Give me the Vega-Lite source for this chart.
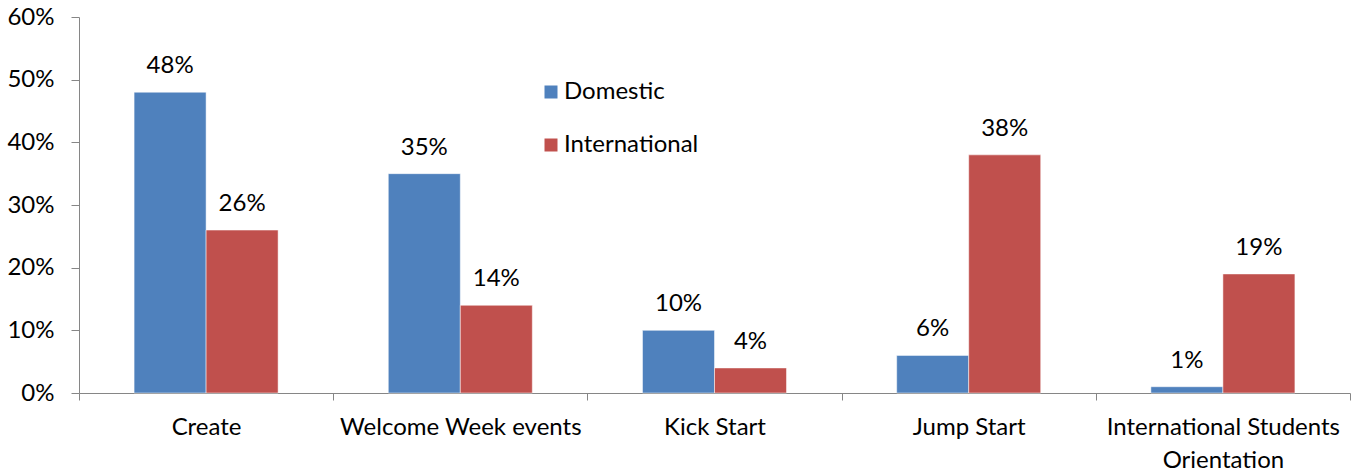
{
  "$schema": "https://vega.github.io/schema/vega-lite/v6.json",
  "width": 1271,
  "height": 376,
  "autosize": "none",
  "padding": {"left": 79, "top": 17, "right": 8, "bottom": 79},
  "background": "white",
  "config": {
    "view": {"stroke": null},
    "font": "Lato",
    "axis": {"labelFont": "Lato", "labelColor": "#000000", "domainColor": "#868686", "tickColor": "#868686", "grid": false, "title": null}
  },
  "data": {
    "values": [
      {"event": "Create", "group": "Domestic", "value": 0.48},
      {"event": "Create", "group": "International", "value": 0.26},
      {"event": "Welcome Week events", "group": "Domestic", "value": 0.35},
      {"event": "Welcome Week events", "group": "International", "value": 0.14},
      {"event": "Kick Start", "group": "Domestic", "value": 0.10},
      {"event": "Kick Start", "group": "International", "value": 0.04},
      {"event": "Jump Start", "group": "Domestic", "value": 0.06},
      {"event": "Jump Start", "group": "International", "value": 0.38},
      {"event": "International Students Orientation", "group": "Domestic", "value": 0.01},
      {"event": "International Students Orientation", "group": "International", "value": 0.19}
    ]
  },
  "encoding": {
    "x": {
      "field": "event", "type": "nominal", "sort": null,
      "scale": {"paddingInner": 0, "paddingOuter": 0},
      "axis": {
        "labelAngle": 0, "labelFontSize": 24, "labelPadding": 15, "tickSize": 7, "tickBand": "extent",
        "labelLimit": 0,
        "labelExpr": "datum.label == 'International Students Orientation' ? ['International Students', 'Orientation'] : datum.label",
        "labelLineHeight": 33
      }
    },
    "xOffset": {"field": "group", "type": "nominal", "scale": {"paddingInner": 0, "paddingOuter": 0.765}},
    "y": {
      "field": "value", "type": "quantitative",
      "scale": {"domain": [0, 0.6]},
      "axis": {"format": ".0%", "values": [0, 0.1, 0.2, 0.3, 0.4, 0.5, 0.6], "labelFontSize": 24, "tickSize": 8, "labelPadding": 17}
    }
  },
  "layer": [
    {
      "mark": {"type": "bar", "stroke": "white", "strokeWidth": 0.5},
      "encoding": {
        "color": {
          "field": "group", "type": "nominal",
          "scale": {"domain": ["Domestic", "International"], "range": ["#4F81BD", "#C0504D"]},
          "legend": {
            "title": null, "orient": "none", "legendX": 460, "legendY": 63,
            "symbolType": "square", "symbolSize": 169, "symbolStrokeWidth": 0,
            "labelFontSize": 24, "labelFont": "Lato", "labelColor": "#000000",
            "rowPadding": 29, "labelOffset": 1, "labelLimit": 0
          }
        }
      }
    },
    {
      "mark": {"type": "text", "baseline": "alphabetic", "dy": -19, "fontSize": 24, "color": "#000000"},
      "encoding": {
        "text": {"field": "value", "type": "quantitative", "format": ".0%"}
      }
    }
  ]
}
